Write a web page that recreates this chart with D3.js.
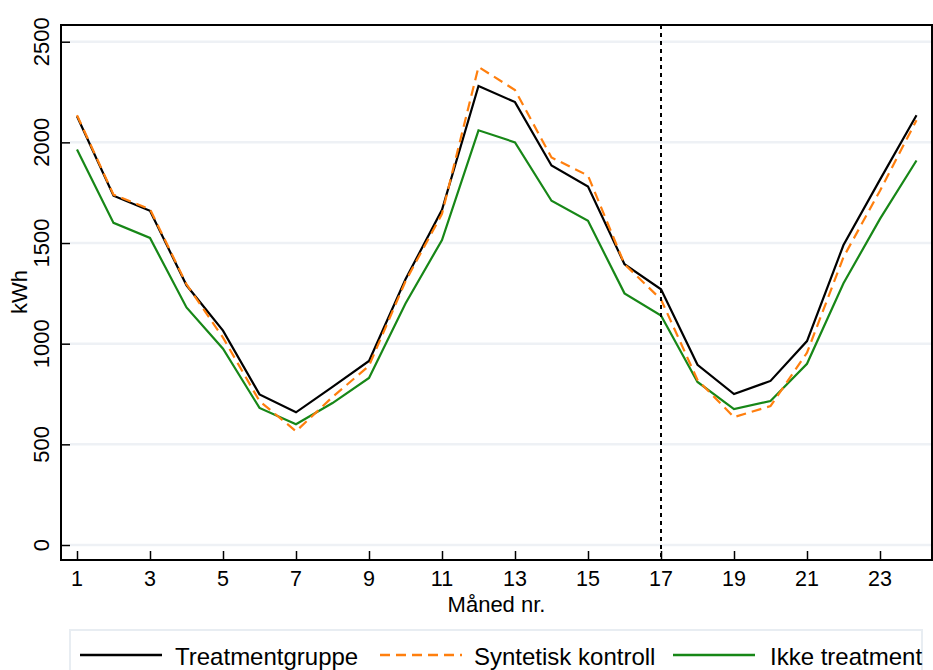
<!DOCTYPE html>
<html><head><meta charset="utf-8">
<script src="https://cdn.jsdelivr.net/npm/d3@7"></script>
<style>body{margin:0;background:#fff}svg{display:block;font-family:"Liberation Sans",Arial,sans-serif}</style>
</head><body><svg id="c" width="933" height="670"></svg>
<script>
const months = d3.range(1, 25);
const treatment = [2130,1735,1660,1290,1065,748,659,785,914,1320,1665,2280,2200,1885,1780,1395,1270,895,750,815,1013,1490,1815,2135];
const synthetic = [2135,1740,1668,1295,1030,715,565,735,890,1310,1645,2375,2260,1925,1835,1395,1220,820,635,690,955,1430,1760,2110];
const nonTreated = [1965,1600,1525,1180,975,681,600,705,830,1200,1515,2060,2000,1710,1610,1250,1140,810,675,715,900,1300,1620,1910];
const xTicks = [1,3,5,7,9,11,13,15,17,19,21,23];
const yTicks = [0,500,1000,1500,2000,2500];
const treatmentStart = 17;
const seriesNames = ["Treatmentgruppe","Syntetisk kontroll","Ikke treatment"];

const svg = d3.select("#c");
const L = 61, T = 25, R = 932, B = 560;
const x = d3.scaleLinear().domain([1,24]).range([77,916.5]);
const y = d3.scaleLinear().domain([0,2500]).range([545,41.7]);

// gridlines
svg.append("g").selectAll("line").data(yTicks).join("line")
  .attr("x1",70).attr("x2",R).attr("y1",d=>y(d)).attr("y2",d=>y(d))
  .attr("stroke","#eef1f5").attr("stroke-width",2.5);

// axes (ticks inward)
const yAxis = svg.append("g").attr("transform",`translate(${L},0)`)
  .call(d3.axisRight(y).tickValues(yTicks).tickSize(9).tickFormat(""));
yAxis.select(".domain").remove();
yAxis.selectAll("line").attr("stroke","#000").attr("stroke-width",1.5);
const xAxis = svg.append("g").attr("transform",`translate(0,${B})`)
  .call(d3.axisTop(x).tickValues(xTicks).tickSize(9).tickFormat(""));
xAxis.select(".domain").remove();
xAxis.selectAll("line").attr("stroke","#000").attr("stroke-width",1.5);

// tick labels
svg.append("g").selectAll("text").data(yTicks).join("text")
  .attr("transform",d=>`translate(49,${y(d)}) rotate(-90)`)
  .attr("text-anchor","middle").attr("font-size",22).attr("fill","#000")
  .text(d=>d);
svg.append("g").selectAll("text").data(xTicks).join("text")
  .attr("x",d=>x(d)).attr("y",586).attr("text-anchor","middle")
  .attr("font-size",21.5).attr("fill","#000").text(d=>d);

// titles
svg.append("text").attr("x",(L+R)/2).attr("y",612).attr("text-anchor","middle")
  .attr("font-size",22).text("Måned nr.");
svg.append("text").attr("transform",`translate(27,292) rotate(-90)`)
  .attr("text-anchor","middle").attr("font-size",22).text("kWh");

// lines
const line = d3.line().x((d,i)=>x(months[i])).y(d=>y(d));
svg.append("path").datum(nonTreated).attr("d",line).attr("fill","none")
  .attr("stroke","#178717").attr("stroke-width",2.2);
svg.append("path").datum(treatment).attr("d",line).attr("fill","none")
  .attr("stroke","#000").attr("stroke-width",2.2);
svg.append("path").datum(synthetic).attr("d",line).attr("fill","none")
  .attr("stroke","#ff7f0e").attr("stroke-width",2.2).attr("stroke-dasharray","10,6");

// vertical treatment line
svg.append("line").attr("x1",x(treatmentStart)).attr("x2",x(treatmentStart))
  .attr("y1",T).attr("y2",B).attr("stroke","#000").attr("stroke-width",2)
  .attr("stroke-dasharray","4,4");

// frame
svg.append("rect").attr("x",L).attr("y",T).attr("width",R-L).attr("height",B-T)
  .attr("fill","none").attr("stroke","#000").attr("stroke-width",2);

// legend
const lg = svg.append("g");
lg.append("rect").attr("x",70).attr("y",630).attr("width",852).attr("height",60)
  .attr("fill","#fff").attr("stroke","#e8edf2").attr("stroke-width",2);
const items = [
  {name:seriesNames[0], color:"#000", dash:null, x0:80, tx:175},
  {name:seriesNames[1], color:"#ff7f0e", dash:"10,6", x0:380, tx:474},
  {name:seriesNames[2], color:"#178717", dash:null, x0:673, tx:770}
];
items.forEach(it=>{
  lg.append("line").attr("x1",it.x0).attr("x2",it.x0+82).attr("y1",655).attr("y2",655)
    .attr("stroke",it.color).attr("stroke-width",2.5).attr("stroke-dasharray",it.dash);
  lg.append("text").attr("x",it.tx).attr("y",665).attr("font-size",24).text(it.name);
});
</script></body></html>
